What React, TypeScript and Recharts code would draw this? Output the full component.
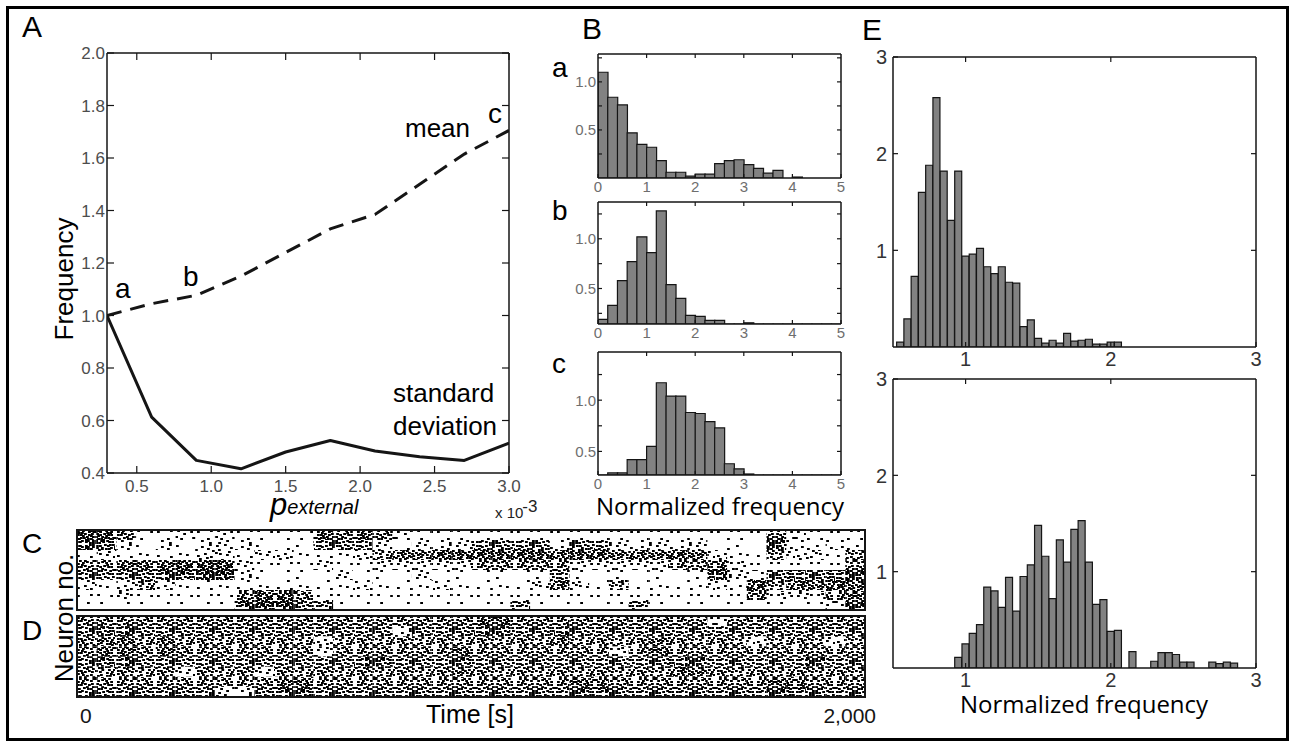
import React from 'react';
import { LineChart, Line, BarChart, Bar, ComposedChart, XAxis, YAxis, ReferenceArea } from 'recharts';

// ---- A: mean and standard deviation of the frequency vs p_external (x 10^-3)
const P_EXTERNAL = [0.3, 0.6, 0.9, 1.2, 1.5, 1.8, 2.1, 2.4, 2.7, 3.0];
const MEAN_FREQ = [1.0, 1.045, 1.077, 1.15, 1.24, 1.33, 1.385, 1.5, 1.615, 1.705];
const SD_FREQ = [1.0, 0.613, 0.448, 0.416, 0.48, 0.524, 0.484, 0.462, 0.448, 0.514];
const A_X_TICKS = [0.5, 1.0, 1.5, 2.0, 2.5, 3.0];
const A_Y_TICKS = [0.4, 0.6, 0.8, 1.0, 1.2, 1.4, 1.6, 1.8, 2.0];

// ---- B: normalized frequency histograms, bins of 0.2
const B_BINS = [0.1, 0.3, 0.5, 0.7, 0.9, 1.1, 1.3, 1.5, 1.7, 1.9, 2.1, 2.3, 2.5, 2.7, 2.9, 3.1, 3.3, 3.5, 3.7, 3.9, 4.1, 4.3, 4.5, 4.7, 4.9];
const HIST_A = [1.1, 0.84, 0.76, 0.47, 0.35, 0.32, 0.18, 0.06, 0.06, 0.02, 0.04, 0.04, 0.15, 0.18, 0.19, 0.14, 0.1, 0.05, 0.08, 0, 0.01, 0, 0, 0, 0];
const HIST_B = [0.19, 0.33, 0.58, 0.77, 1.02, 0.86, 1.28, 0.54, 0.4, 0.23, 0.22, 0.18, 0.18, 0, 0, 0.155, 0, 0, 0, 0, 0, 0, 0, 0, 0];
const HIST_C = [0, 0.29, 0.29, 0.42, 0.42, 0.55, 1.17, 1.04, 1.04, 0.88, 0.87, 0.79, 0.73, 0.38, 0.33, 0.28, 0, 0, 0, 0, 0, 0, 0, 0, 0];
const B_X_TICKS = [0, 1, 2, 3, 4, 5];
const B_TOP_TICKS = [1, 2, 3, 4];
const B_Y_TICKS = [0.25, 0.5, 0.75, 1.0, 1.25];
const B_Y_LABELS = [0.5, 1.0];

// ---- E: histograms, bins of 0.05
const E_TOP_BINS = [0.55, 0.6, 0.65, 0.7, 0.75, 0.8, 0.85, 0.9, 0.95, 1.0, 1.05, 1.1, 1.15, 1.2, 1.25, 1.3, 1.35, 1.4, 1.45, 1.5, 1.55, 1.6, 1.65, 1.7, 1.75, 1.8, 1.85, 1.9, 1.95, 2.0, 2.05];
const E_TOP = [0.05, 0.29, 0.73, 1.6, 1.88, 2.58, 1.82, 1.31, 1.82, 0.94, 0.96, 1.02, 0.83, 0.76, 0.83, 0.67, 0.66, 0.21, 0.28, 0.09, 0.04, 0.07, 0.04, 0.14, 0.06, 0.07, 0.08, 0.03, 0.03, 0.05, 0.05];
const E_BOT_BINS = [0.95, 1.0, 1.05, 1.1, 1.15, 1.2, 1.25, 1.3, 1.35, 1.4, 1.45, 1.5, 1.55, 1.6, 1.65, 1.7, 1.75, 1.8, 1.85, 1.9, 1.95, 2.0, 2.05, 2.1, 2.15, 2.2, 2.25, 2.3, 2.35, 2.4, 2.45, 2.5, 2.55, 2.6, 2.65, 2.7, 2.75, 2.8, 2.85];
const E_BOT = [0.11, 0.25, 0.36, 0.45, 0.84, 0.8, 0.63, 0.94, 0.59, 0.95, 1.07, 1.48, 1.16, 0.72, 1.33, 1.1, 1.44, 1.53, 1.1, 0.66, 0.71, 0.38, 0.39, 0, 0.17, 0, 0, 0.07, 0.16, 0.16, 0.14, 0.06, 0.06, 0, 0, 0.06, 0.045, 0.06, 0.05];
const E_TICKS = [1, 2, 3];
const E_INNER = [1, 2];

// ---- C / D: spike rasters, read as density levels 0-5 per (50 s x 50 neurons) cell, top row first
const RASTER_T_MAX = 2000;
const RASTER_BIN_S = 50;
const NEURONS_PER_ROW = 50;
const C_DENSITY = [
  '5531121211 1143432111 1111111111 1111132111',
  '4421212221 1133321222 3333233222 2211142121',
  '1211112212 2111234455 5555455444 5421132213',
  '3344455521 1121122222 3333322222 3342111113',
  '3333445521 1112111211 1111311111 1152234344',
  '2123211111 1111211121 1112421311 1121534454',
  '1121111135 5311111111 1111111111 1111422234',
  '1111111145 5331111111 1131111131 1111111124',
];
const D_DENSITY = [
  '3333333333 3333333333 4433333333 3323333333',
  '3443333333 3333332333 4433433333 3333333333',
  '3443433333 3323333333 3333433334 3333233323',
  '3443433333 3323333334 3333333234 3333333333',
  '3443333333 3333443334 3333333333 4433333433',
  '3333323332 3333333334 3333333333 4433333333',
  '3333333333 4433333333 3333344333 3333344333',
  '3333333223 4433333333 3333344333 3333344333',
];
const TIME_TICKS = [0, 2000];

// stipple for the raster cells: one 20x16 block of hand placed dots (most spread first),
// laid out four times (as is, mirrored, flipped, shifted) in a 40x32 tile
const SPIKE_POS: [number, number][] = [
  [2, 3], [12, 10], [15, 2], [6, 12], [9, 5], [17, 8], [0, 9], [4, 0], [14, 14], [11, 1],
  [5, 6], [17, 12], [8, 9], [1, 13], [13, 6], [7, 2], [16, 5], [3, 10], [10, 13], [17.4, 0],
  [6, 4], [11, 8], [2, 6], [15, 10], [9, 0], [4, 13], [17, 14], [13, 3], [7, 7], [0, 1],
  [12, 12], [17.4, 3], [5, 9], [10, 11], [3, 4], [15, 7], [8, 14], [1, 11], [14, 0], [16, 11],
];
const SPIKES_PER_LEVEL = [0, 3, 10, 27, 34, 40];
const QUADS: ((p: [number, number]) => [number, number])[] = [
  ([x, y]) => [x, y],
  ([x, y]) => [20 + 17.2 - x, y],
  ([x, y]) => [x, 16 + 14 - y],
  ([x, y]) => [20 + ((x + 9) % 20), 16 + ((y + 7) % 16)],
];

const FONT = '"Liberation Sans", Arial, Helvetica, sans-serif';
const NARROW = '"Liberation Sans Narrow", "Arial Narrow", "Liberation Sans", sans-serif';
const MYRIAD = '"Open Sans", "Noto Sans", sans-serif';
const INK = '#151515';
const AXIS = { stroke: INK, strokeWidth: 1.5 };

type Box = { x: number; y: number; w: number; h: number };
const PAD_L = 50, PAD_R = 22, PAD_T = 10, PAD_B = 36;
const Y_W = 40, X_H = 30;

function frame(b: Box) {
  return {
    style: { position: 'absolute' as const, left: b.x - PAD_L, top: b.y - PAD_T },
    width: b.w + PAD_L + PAD_R,
    height: b.h + PAD_T + PAD_B,
    margin: { left: PAD_L - Y_W, right: PAD_R - 1, top: PAD_T - 1, bottom: PAD_B - X_H },
  };
}

type Side = 'left' | 'right' | 'top' | 'bottom';
interface TickOpts { len: number; fs?: number; color?: string; gap?: number; fmt?: (v: number) => string }

// matlab style ticks: drawn inward, label outside
function tickFn(side: Side, o: TickOpts) {
  return (props: any) => {
    const x = Number(props.x);
    const y = Number(props.y);
    const v = props.payload ? props.payload.value : 0;
    const txt = o.fmt ? o.fmt(v) : '';
    const gap = o.gap ?? 3;
    const font = { fontFamily: FONT, fontSize: o.fs ?? 16, fill: o.color ?? '#555' };
    const ln = { stroke: INK, strokeWidth: 1.2 };
    if (side === 'left') {
      return (
        <g>
          <line x1={x} y1={y} x2={x + o.len} y2={y} {...ln} />
          {txt ? <text x={x - gap} y={y} dy="0.36em" textAnchor="end" {...font}>{txt}</text> : null}
        </g>
      );
    }
    if (side === 'right') return <line x1={x} y1={y} x2={x - o.len} y2={y} {...ln} />;
    if (side === 'top') return <line x1={x} y1={y} x2={x} y2={y + o.len} {...ln} />;
    return (
      <g>
        <line x1={x} y1={y} x2={x} y2={y - o.len} {...ln} />
        {txt ? <text x={x} y={y + gap} textAnchor="middle" {...font}>{txt}</text> : null}
      </g>
    );
  };
}

const one = (v: number) => v.toFixed(1);

function PanelA() {
  const data = P_EXTERNAL.map((p, i) => ({ p, mean: MEAN_FREQ[i], sd: SD_FREQ[i] }));
  const f = frame({ x: 107, y: 53, w: 402, h: 420 });
  const look = { fs: 17, color: '#4d4d4d' };
  return (
    <div style={f.style}>
      <LineChart width={f.width} height={f.height} margin={f.margin} data={data}>
        <XAxis xAxisId="b" dataKey="p" type="number" domain={[0.3, 3]} allowDataOverflow ticks={A_X_TICKS} interval={0}
          height={X_H} tickSize={0} tickMargin={0} tickLine={false} axisLine={AXIS}
          tick={tickFn('bottom', { len: 7, gap: 19, fmt: one, ...look })} />
        <XAxis xAxisId="t" orientation="top" dataKey="p" type="number" domain={[0.3, 3]} allowDataOverflow ticks={A_X_TICKS} interval={0}
          height={1} tickSize={0} tickMargin={0} tickLine={false} axisLine={AXIS} tick={tickFn('top', { len: 7 })} />
        <YAxis yAxisId="l" type="number" domain={[0.4, 2]} allowDataOverflow ticks={A_Y_TICKS} interval={0}
          width={Y_W} tickSize={0} tickMargin={0} tickLine={false} axisLine={AXIS}
          tick={tickFn('left', { len: 7, gap: 2, fmt: one, ...look })} />
        <YAxis yAxisId="r" orientation="right" type="number" domain={[0.4, 2]} allowDataOverflow ticks={A_Y_TICKS} interval={0}
          width={1} tickSize={0} tickMargin={0} tickLine={false} axisLine={AXIS} tick={tickFn('right', { len: 7 })} />
        <Line xAxisId="b" yAxisId="l" type="linear" dataKey="mean" stroke={INK} strokeWidth={3} strokeDasharray="15 9"
          dot={false} isAnimationActive={false} />
        <Line xAxisId="b" yAxisId="l" type="linear" dataKey="sd" stroke={INK} strokeWidth={3} strokeLinejoin="round"
          dot={false} isAnimationActive={false} />
      </LineChart>
    </div>
  );
}

interface HistProps {
  box: Box;
  bins: number[];
  values: number[];
  xDomain: [number, number];
  yDomain: [number, number];
  xTicks: number[];
  topTicks: number[];
  yTicks: number[];
  rightTicks: number[];
  yFmt: (v: number) => string;
  len: number;
  fs: number;
  color: string;
  gapX: number;
  gapY: number;
}

function Histogram(p: HistProps) {
  const data = p.bins.map((bin, i) => ({ bin, v: p.values[i] }));
  const f = frame(p.box);
  const inY = (t: number) => t >= p.yDomain[0] && t <= p.yDomain[1];
  return (
    <div style={f.style}>
      <BarChart width={f.width} height={f.height} margin={f.margin} data={data} barCategoryGap={0} barGap={0}>
        <XAxis xAxisId="b" dataKey="bin" type="number" domain={p.xDomain} allowDataOverflow ticks={p.xTicks} interval={0}
          height={X_H} tickSize={0} tickMargin={0} tickLine={false} axisLine={AXIS}
          tick={tickFn('bottom', { len: p.len, gap: p.gapX, fs: p.fs, color: p.color, fmt: (v) => String(v) })} />
        <XAxis xAxisId="t" orientation="top" dataKey="bin" type="number" domain={p.xDomain} allowDataOverflow ticks={p.topTicks} interval={0}
          height={1} tickSize={0} tickMargin={0} tickLine={false} axisLine={AXIS} tick={tickFn('top', { len: p.len })} />
        <YAxis yAxisId="l" type="number" domain={p.yDomain} allowDataOverflow ticks={p.yTicks.filter(inY)} interval={0}
          width={Y_W} tickSize={0} tickMargin={0} tickLine={false} axisLine={AXIS}
          tick={tickFn('left', { len: p.len, gap: p.gapY, fs: p.fs, color: p.color, fmt: p.yFmt })} />
        <YAxis yAxisId="r" orientation="right" type="number" domain={p.yDomain} allowDataOverflow ticks={p.rightTicks.filter(inY)} interval={0}
          width={1} tickSize={0} tickMargin={0} tickLine={false} axisLine={AXIS} tick={tickFn('right', { len: p.len })} />
        <Bar xAxisId="b" yAxisId="l" dataKey="v" fill="#828282" stroke={INK} strokeWidth={1.2} isAnimationActive={false} />
      </BarChart>
    </div>
  );
}

const bLabel = (v: number) => (B_Y_LABELS.includes(v) ? v.toFixed(1) : '');

function histB(box: Box, values: number[], yDomain: [number, number]) {
  return (
    <Histogram box={box} bins={B_BINS} values={values} xDomain={[0, 5]} yDomain={yDomain}
      xTicks={B_X_TICKS} topTicks={B_TOP_TICKS} yTicks={B_Y_TICKS} rightTicks={B_Y_TICKS} yFmt={bLabel}
      len={4} fs={15} color="#6e6e6e" gapX={14} gapY={2} />
  );
}

function histE(box: Box, bins: number[], values: number[]) {
  return (
    <Histogram box={box} bins={bins} values={values} xDomain={[0.5, 3]} yDomain={[0, 3]}
      xTicks={E_TICKS} topTicks={E_INNER} yTicks={E_TICKS} rightTicks={E_INNER} yFmt={(v) => String(v)}
      len={5} fs={20} color="#333" gapX={19} gapY={6} />
  );
}

function SpikePatterns() {
  return (
    <svg width={0} height={0} style={{ position: 'absolute' }}>
      <defs>
        {SPIKES_PER_LEVEL.map((n, lvl) =>
          lvl === 0 ? null : (
            <pattern key={lvl} id={`spk${lvl}`} width={40} height={32} patternUnits="userSpaceOnUse">
              {QUADS.map((q, qi) =>
                SPIKE_POS.slice(0, n).map((pt, i) => {
                  const [x, y] = q(pt);
                  return <rect key={`${qi}-${i}`} x={x} y={y} width={2.8} height={2} fill="#000" />;
                }),
              )}
            </pattern>
          ),
        )}
      </defs>
    </svg>
  );
}

const timeTick = (props: any) => {
  const v = props.payload ? props.payload.value : 0;
  const x = Number(props.x);
  const y = Number(props.y);
  const first = v === 0;
  return (
    <text x={first ? x + 3 : x + 11} y={y + 26} textAnchor={first ? 'start' : 'end'}
      fontFamily={NARROW} fontSize={21} fill={INK}>
      {v.toLocaleString('en-US')}
    </text>
  );
};

function Raster({ box, grid, showTime }: { box: Box; grid: string[]; showTime?: boolean }) {
  const rows = grid.map((r) => r.replace(/ /g, ''));
  const nRows = rows.length;
  const yMax = nRows * NEURONS_PER_ROW;
  const cells: React.ReactNode[] = [];
  rows.forEach((row, r) => {
    for (let c = 0; c < row.length; c++) {
      const lvl = Number(row[c]);
      if (!lvl) continue;
      cells.push(
        <ReferenceArea key={`${r}-${c}`} x1={c * RASTER_BIN_S} x2={(c + 1) * RASTER_BIN_S}
          y1={(nRows - r - 1) * NEURONS_PER_ROW} y2={(nRows - r) * NEURONS_PER_ROW}
          fill={`url(#spk${lvl})`} fillOpacity={1} stroke="none" />,
      );
    }
  });
  const extra = showTime ? 30 : 0;
  return (
    <div style={{ position: 'absolute', left: box.x - 2, top: box.y - 2 }}>
      <ComposedChart width={box.w + 26} height={box.h + 4 + extra} margin={{ top: 2, right: 24, bottom: 2, left: 2 }} data={[]}>
        <XAxis type="number" dataKey="t" domain={[0, RASTER_T_MAX]} allowDataOverflow ticks={TIME_TICKS} interval={0}
          hide={!showTime} height={extra || 1} axisLine={false} tickLine={false} tickSize={0} tickMargin={0} tick={timeTick} />
        <YAxis type="number" dataKey="n" domain={[0, yMax]} allowDataOverflow hide />
        {cells}
        <ReferenceArea x1={0} x2={RASTER_T_MAX} y1={0} y2={yMax} fill="none" stroke={INK} strokeWidth={2} />
      </ComposedChart>
    </div>
  );
}

function Labels() {
  const big = { fontFamily: FONT, fill: '#000' };
  return (
    <svg width={1293} height={745} style={{ position: 'absolute', left: 0, top: 0, pointerEvents: 'none' }}>
      <text x={22} y={37} fontSize={30} {...big}>A</text>
      <text x={582} y={39} fontSize={30} {...big}>B</text>
      <text x={862} y={40} fontSize={30} {...big}>E</text>
      <text x={22} y={553} fontSize={28} {...big}>C</text>
      <text x={22} y={640} fontSize={28} {...big}>D</text>

      <text x={115} y={298} fontSize={28} {...big}>a</text>
      <text x={183} y={286} fontSize={28} {...big}>b</text>
      <text x={488} y={123} fontSize={28} {...big}>c</text>
      <text x={405} y={137} fontSize={26} {...big}>mean</text>
      <text x={393} y={402} fontSize={26} {...big}>standard</text>
      <text x={393} y={435} fontSize={26} {...big}>deviation</text>
      <text transform="translate(73,279) rotate(-90)" textAnchor="middle" fontSize={26} {...big}>Frequency</text>
      <text x={270} y={515} fontSize={31} fontStyle="italic" {...big}>
        p<tspan fontSize={20} dy={-1}>external</tspan>
      </text>
      <text x={495} y={518} fontFamily={NARROW} fontSize={15} fill="#222">
        x 10<tspan dy={-6} dx={-1} fontSize={17}>-3</tspan>
      </text>

      <text x={552} y={77} fontSize={28} {...big}>a</text>
      <text x={552} y={220} fontSize={28} {...big}>b</text>
      <text x={552} y={373} fontSize={28} {...big}>c</text>
      <text x={596} y={515} fontFamily={MYRIAD} fontSize={24} fill="#000">Normalized frequency</text>
      <text x={960} y={713} fontFamily={MYRIAD} fontSize={24} fill="#000">Normalized frequency</text>

      <text transform="translate(73,618) rotate(-90)" textAnchor="middle" fontSize={26} {...big}>Neuron no.</text>
      <text x={470} y={723} textAnchor="middle" fontFamily={NARROW} fontSize={25} fill="#000">Time [s]</text>
    </svg>
  );
}

export default function App() {
  return (
    <div style={{ position: 'fixed', left: 0, top: 0, width: 1293, height: 745, background: '#fff', overflow: 'hidden' }}>
      <SpikePatterns />
      <div style={{ position: 'absolute', left: 6, top: 6, width: 1283, height: 735, border: '3px solid #000', boxSizing: 'border-box' }} />
      <PanelA />
      {histB({ x: 598, y: 54, w: 243, h: 124 }, HIST_A, [0, 1.29])}
      {histB({ x: 598, y: 202, w: 243, h: 122 }, HIST_B, [0.143, 1.37])}
      {histB({ x: 598, y: 352, w: 243, h: 123 }, HIST_C, [0.27, 1.47])}
      {histE({ x: 893, y: 57, w: 363, h: 290 }, E_TOP_BINS, E_TOP)}
      {histE({ x: 893, y: 379, w: 363, h: 289 }, E_BOT_BINS, E_BOT)}
      <Raster box={{ x: 77, y: 530, w: 788, h: 80 }} grid={C_DENSITY} />
      <Raster box={{ x: 77, y: 616, w: 788, h: 81 }} grid={D_DENSITY} showTime />
      <Labels />
    </div>
  );
}
